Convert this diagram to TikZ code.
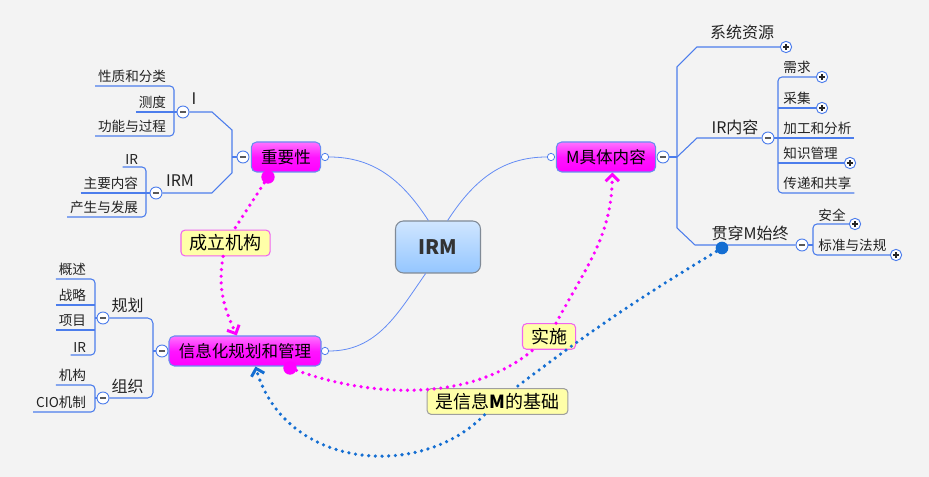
\documentclass[tikz,border=0pt]{standalone}
\usepackage{fontspec}
\setmainfont{Noto Sans CJK SC}
\usepackage{tikz}
\usetikzlibrary{arrows.meta}
\definecolor{bgcol}{RGB}{243,243,243}
\definecolor{branchblue}{RGB}{76,125,236}
\definecolor{linkblue}{RGB}{100,140,245}
\definecolor{topicedge}{RGB}{105,140,240}
\definecolor{relblue}{RGB}{20,110,210}
\definecolor{relmag}{RGB}{255,0,255}
\definecolor{notefill}{RGB}{255,255,168}
\definecolor{noteedge}{RGB}{240,100,240}
\definecolor{irmtop}{RGB}{208,230,255}
\definecolor{irmbot}{RGB}{148,198,255}
\definecolor{irmedge}{RGB}{128,138,150}
\definecolor{textdark}{RGB}{34,34,34}
\tikzstyle{irmbox}=[rectangle,rounded corners=6pt,draw=irmedge,top color=irmtop,bottom color=irmbot,
                  minimum width=63.75pt,minimum height=39pt,font=\fontsize{15}{18}\selectfont\bfseries,text=black!80,line width=0.8pt]
\tikzstyle{topicbox}=[rectangle,rounded corners=4pt,draw=topicedge,top color=magenta!55,bottom color=magenta,middle color=magenta!92,
                  minimum height=22.5pt,inner xsep=7.4pt,font=\fontsize{12.4}{14}\selectfont,line width=0.8pt]
\tikzstyle{subtext}=[inner sep=1pt,font=\fontsize{12}{14}\selectfont,text=textdark]
\tikzstyle{leaftext}=[inner xsep=2pt,inner ysep=2pt,font=\fontsize{10.2}{12}\selectfont,text=textdark]
\tikzstyle{notebox}=[rectangle,rounded corners=3pt,draw=noteedge,fill=notefill,minimum height=18.75pt,inner xsep=6.4pt,
                  font=\fontsize{13.5}{16}\selectfont,line width=0.8pt]
\tikzstyle{branchline}=[draw=branchblue,line width=0.8pt]
\tikzstyle{stemline}=[draw=branchblue,line width=2pt]
\tikzstyle{linkline}=[draw=linkblue,line width=0.6pt]
\tikzstyle{openc}=[circle,draw=branchblue,fill=white,inner sep=0pt,minimum size=5.5pt,line width=0.6pt]
\tikzstyle{minusc}=[circle,draw=branchblue,fill=white,inner sep=0pt,minimum size=9pt,line width=0.7pt,
                  path picture={\draw[gray!70!black,line width=1.3pt] ([xshift=-2.3pt]path picture bounding box.center) -- ([xshift=2.3pt]path picture bounding box.center);}]
\tikzstyle{plusc}=[circle,draw=branchblue,fill=white,inner sep=0pt,minimum size=8.5pt,line width=0.7pt,
                  path picture={\draw[black!85,line width=0.8pt] ([xshift=-2.3pt]path picture bounding box.center) -- ([xshift=2.3pt]path picture bounding box.center)
                  ([yshift=-2.3pt]path picture bounding box.center) -- ([yshift=2.3pt]path picture bounding box.center);}]
\tikzstyle{dotm}=[circle,fill=relmag,inner sep=0pt,minimum size=10pt]
\tikzstyle{dotb}=[circle,fill=relblue,inner sep=0pt,minimum size=9.5pt]
\tikzstyle{relm}=[draw=relmag,line width=2.7pt,line cap=round,dash pattern=on 0pt off 5pt]
\tikzstyle{relb}=[draw=relblue,line width=2.7pt,line cap=round,dash pattern=on 0pt off 5pt]
\tikzstyle{arrow}=[-{Straight Barb[length=5pt,width=10pt,line width=2.2pt]}]

\begin{document}
\begin{tikzpicture}[x=0.75pt,y=0.75pt]
  \useasboundingbox (0,0) rectangle (929,477);
  \fill[bgcol] (0,0) rectangle (929,477);

  % central topic and main topics
  \node[irmbox] (irm) at (438,230) {IRM};
  \node[topicbox] (imp) at (286,320) {重要性};
  \node[topicbox] (mcon) at (606,320) {M具体内容};
  \node[topicbox] (plan) at (245,126) {信息化规划和管理};

  \node[openc] (o1) at (325,320) {};
  \node[openc] (o2) at (551,320) {};
  \node[openc] (o3) at (325,126) {};
  \node[minusc] (m1) at (243,320) {};
  \node[minusc] (m3) at (663,320) {};
  \node[minusc] (m2) at (162,126) {};

  \draw[linkline] (irm.110) to[out=123,in=0] (o1);
  \draw[linkline] (irm.70) to[out=57,in=180] (o2);
  \draw[linkline] (irm.-115) to[out=-125,in=0] (o3);

  % second level
  \node[subtext] (tI) at (194,378) {I};
  \node[subtext] (tIRM) at (180,296) {IRM};
  \node[subtext] (tplan) at (127.5,172) {规划};
  \node[subtext] (torg) at (127.5,91) {组织};
  \node[subtext] (tsys) at (742,445) {系统资源};
  \node[subtext] (tir) at (735,350) {IR内容};
  \node[subtext] (tthr) at (750,244) {贯穿M始终};

  \node[minusc] (mI) at (183,365) {};
  \node[minusc] (mIRM) at (156,284) {};
  \node[minusc] (mP) at (103,159) {};
  \node[minusc] (mO) at (103,79) {};
  \node[minusc] (mIR) at (768,339) {};
  \node[minusc] (mG) at (802,232) {};
  \node[plusc] (p0) at (786,430) {};

  \coordinate (j1) at (232,320);
  \coordinate (j2) at (153,126);
  \coordinate (j3) at (677,320);
  \coordinate (jI) at (174,365);
  \coordinate (jM) at (146,284);
  \coordinate (jP) at (95,159);
  \coordinate (jO) at (95,79);
  \coordinate (jR) at (778,339);
  \coordinate (jG) at (813,232);

  \draw[branchline] (mI) -- ++(29,0) -- ++(20,-18) -- ++(0,-43) -- ++(-20,-20) -- (mIRM);
  \draw[stemline] (j1) -- (m1);
  \draw[branchline] (p0) -- ++(-89,0) -- ++(-20,-20) -- ++(0,-161) -- ++(18,-17) -- (mG);
  \draw[branchline] (j3) -- ++(20,19) -- (mIR);
  \draw[stemline] (j3) -- (m3);
  \draw[branchline,rounded corners=4pt] (mP) -| (j2) |- (mO);
  \draw[stemline] (j2) -- (m2);

  % leaves
  \foreach \nm/\yy/\txt in {a1/391/性质和分类,a2/365/测度,a3/341/功能与过程}
    \node[leaftext,anchor=south east] (\nm) at (169,\yy) {\txt};
  \foreach \nm/\yy/\txt in {c1/310/IR,c2/284/主要内容,c3/260/产生与发展}
    \node[leaftext,anchor=south east] (\nm) at (141,\yy) {\txt};
  \foreach \nm/\yy/\txt in {d1/198/概述,d2/172/战略,d3/147/项目,d4/122/IR,e1/92/机构,e2/65/CIO机制}
    \node[leaftext,anchor=south east] (\nm) at (89,\yy) {\txt};
  \foreach \nm/\yy/\txt in {b1/400/需求,b2/369/采集,b3/339/加工和分析,b4/314/知识管理,b5/284/传递和共享}
    \node[leaftext,anchor=south west] (\nm) at (780.5,\yy) {\txt};
  \foreach \nm/\yy/\txt in {f1/253/安全,f2/222/标准与法规}
    \node[leaftext,anchor=south west] (\nm) at (815.5,\yy) {\txt};

  \node[plusc] (q1) at (822,400) {};
  \node[plusc] (q2) at (822,369) {};
  \node[plusc] (q4) at (850,314) {};
  \node[plusc] (r1) at (855,253) {};
  \node[plusc] (r2) at (896,222) {};

  \draw[branchline,rounded corners=3pt] (a1.south west) -| (jI) |- (a3.south west);
  \draw[branchline] (a2.south west) -- (mI);
  \draw[branchline,rounded corners=3pt] (c1.south west) -| (jM) |- (c3.south west);
  \draw[branchline] (c2.south west) -- (mIRM);
  \draw[branchline,rounded corners=3pt] (d1.south west) -| (jP) |- (d4.south west);
  \draw[branchline] (d2.south west) -- (d2.south west -| jP);
  \draw[branchline] (d3.south west) -- (d3.south west -| jP);
  \draw[branchline] (mP) -- (jP);
  \draw[branchline,rounded corners=3pt] (e1.south west) -| (jO) |- (e2.south west);
  \draw[branchline] (mO) -- (jO);
  \draw[branchline,rounded corners=3pt] (q1) -| (jR) |- (b5.south east);
  \draw[branchline] (mIR) -- (b3.south east);
  \draw[branchline] (q2) -- (q2 -| jR);
  \draw[branchline] (q4) -- (q4 -| jR);
  \draw[branchline,rounded corners=3pt] (r1) -| (jG) |- (r2);
  \draw[branchline] (mG) -- (jG);

  % relationships
  \node[notebox] (n1) at (225.5,234) {成立机构};
  \node[notebox] (n2) at (549,140.5) {实施};
  \node[notebox,draw=gray!75] (n3) at (497.5,75.5) {是信息\textbf{M}的基础};
  \node[dotm] (dA) at (268,300) {};
  \node[dotm] (dB) at (290,109) {};
  \node[dotb] (dC) at (722,229) {};

  \draw[relm] (dA) -- (n1);
  \draw[relm,arrow] (n1) to[out=-100,in=115] (plan.118);
  \draw[relm] (dB) .. controls (370,80) and (470,74) .. (n2);
  \draw[relm,arrow] (n2) to[out=62,in=-90] (mcon.-68);
  \draw[relb] (dC) to[bend right=3] (n3);
  \draw[relb,arrow] (n3) .. controls (420,-4) and (285,8) .. (plan.-56);
\end{tikzpicture}
\end{document}
